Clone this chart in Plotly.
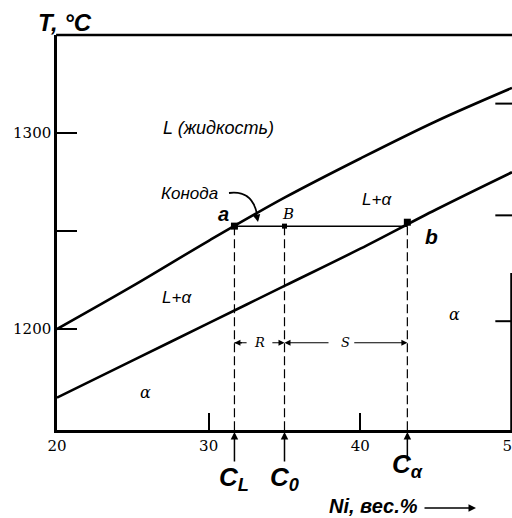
import plotly.graph_objects as go

# ---- data ----
ni_liquidus = [20, 25, 30, 35, 40, 45, 50]
t_liquidus = [1200, 1222, 1245, 1267, 1287, 1306, 1323]
ni_solidus = [20, 25, 30, 35, 40, 45, 50]
t_solidus = [1165, 1184, 1203, 1222, 1241, 1261, 1280]

c_names = ["C<sub>L</sub>", "C<sub>0</sub>", "C<sub>α</sub>"]
c_values = [31.7, 35.0, 43.1]
t_tie = 1252.5
t_dim = 1193

x_ticks = [20, 30, 40, 50]
y_ticks = [1200, 1250, 1300]
y_tick_text = ["1200", "", "1300"]
right_ticks_t = [1315, 1258, 1204]
x_range = [20, 50]
y_range = [1148.5, 1350]

W, H = 512, 518
ML, MR, MT, MB = 57, 0, 35, 88
PW, PH = W - ML - MR, H - MT - MB


def px_x(x):
    return x_range[0] + (x - ML) / PW * (x_range[1] - x_range[0])


def px_y(y):
    return y_range[1] - (y - MT) / PH * (y_range[1] - y_range[0])


def paper_x(x):
    return (x - ML) / PW


def paper_y(y):
    return (MT + PH - y) / PH


SANS = "Liberation Sans"
SERIF = "DejaVu Serif"
BLACK = "black"

fig = go.Figure()
fig.add_trace(go.Scatter(x=ni_liquidus, y=t_liquidus, mode="lines",
                         line=dict(color=BLACK, width=2.6), line_shape="spline"))
fig.add_trace(go.Scatter(x=ni_solidus, y=t_solidus, mode="lines",
                         line=dict(color=BLACK, width=2.6), line_shape="spline"))
# tie line
c_l, c_0, c_a = c_values
fig.add_trace(go.Scatter(x=[c_l, c_a], y=[t_tie, t_tie], mode="lines",
                         line=dict(color=BLACK, width=1.5)))
# dashed verticals
for c in c_values:
    fig.add_trace(go.Scatter(x=[c, c], y=[t_tie, y_range[0]], mode="lines",
                             line=dict(color=BLACK, width=1.2, dash="9px,4px")))
# markers
fig.add_trace(go.Scatter(x=[c_l, c_a], y=[t_tie, t_tie + 2], mode="markers",
                         marker=dict(symbol="square", size=7, color=BLACK)))
fig.add_trace(go.Scatter(x=[c_0], y=[t_tie], mode="markers",
                         marker=dict(symbol="square", size=5, color=BLACK)))

ann = []


def text(x, y, t, size, family=SANS, bold=False, italic=True, xanchor="center",
         xref="x", yref="y"):
    s = t
    if bold:
        s = "<b>" + s + "</b>"
    if italic:
        s = "<i>" + s + "</i>"
    ann.append(dict(x=x, y=y, xref=xref, yref=yref, text=s, showarrow=False,
                    xanchor=xanchor, yanchor="middle",
                    font=dict(family=family, size=size, color=BLACK)))


def arrow(x, y, ax, ay, width=1.3, head=2, size=1.0, axref="x", ayref="y",
          yref="y"):
    ann.append(dict(x=x, y=y, ax=ax, ay=ay, xref="x", yref=yref, axref=axref,
                    ayref=ayref, text="", showarrow=True, arrowhead=head,
                    arrowsize=size, arrowwidth=width, arrowcolor=BLACK))


# region labels
text(px_x(218), px_y(128), "L (жидкость)", 18)
text(px_x(220), px_y(193), "Конода", 17, xanchor="right")
text(px_x(223), px_y(214), "a", 20, bold=True)
text(px_x(288), px_y(214), "B", 15, family=SERIF)
text(px_x(377), px_y(199), "L+α", 17)
text(px_x(431), px_y(236), "b", 21, bold=True)
text(px_x(177), px_y(297), "L+α", 17)
text(px_x(454), px_y(314), "α", 16, family=SERIF)
text(px_x(145), px_y(392), "α", 16, family=SERIF)
text((c_l + c_0) / 2, t_dim, "R", 13, family=SERIF)
text((c_0 + c_a) / 2, t_dim, "S", 13, family=SERIF)
text(paper_x(65), paper_y(22), "T, °C", 24, bold=True, xref="paper",
     yref="paper")

# dimension arrows R / S
arrow(c_l, t_dim, c_l + 0.9, t_dim, width=1.2)
arrow(c_0, t_dim, c_0 - 0.9, t_dim, width=1.2)
arrow(c_0, t_dim, c_0 + 3.0, t_dim, width=1.2)
arrow(c_a, t_dim, c_a - 3.6, t_dim, width=1.2)

# Konoda curved pointer: head
arrow(px_x(258), px_y(222), -2, -10, width=1.5, axref="pixel", ayref="pixel")

# arrows below the axis and concentration labels
for c, name, yc in zip(c_values, c_names, [478, 478, 465]):
    arrow(c, paper_y(432), 0, 31, width=1.5, head=2, axref="pixel",
          ayref="pixel", yref="paper")
    text(c, paper_y(yc), name, 26, bold=True, yref="paper")

text(px_x(373), paper_y(506), "Ni, вес.%", 20, bold=True, yref="paper")
arrow(px_x(476), paper_y(508), -53, 0, width=1.5, head=2, axref="pixel",
      ayref="pixel", yref="paper")

shapes = [
    # Konoda curve
    dict(type="path", xref="x", yref="y",
         path="M {} {} Q {} {} {} {}".format(px_x(229), px_y(193), px_x(252),
                                             px_y(190), px_x(257), px_y(214)),
         line=dict(color=BLACK, width=1.8)),
    # top border
    dict(type="line", xref="paper", yref="paper", x0=-0.002, x1=1, y0=1, y1=1,
         line=dict(color=BLACK, width=2.5)),
    # partial right border
    dict(type="line", xref="x", yref="y", x0=49.95, x1=49.95,
         y0=px_y(273), y1=y_range[0], line=dict(color=BLACK, width=2)),
    # small L-shape at dimension start
    dict(type="line", xref="x", yref="y", x0=c_l, x1=c_l + 0.5, y0=t_dim,
         y1=t_dim, line=dict(color=BLACK, width=1.2)),
]
for t in right_ticks_t:
    shapes.append(dict(type="line", xref="x", yref="y", x0=48.9, x1=50,
                       y0=t, y1=t, line=dict(color=BLACK, width=2)))

fig.update_layout(
    width=W, height=H,
    margin=dict(l=ML, r=MR, t=MT, b=MB, autoexpand=False),
    paper_bgcolor="white", plot_bgcolor="white",
    showlegend=False,
    annotations=ann, shapes=shapes,
    xaxis=dict(range=x_range, tickvals=x_ticks, ticks="inside", ticklen=17,
               tickwidth=2, tickcolor=BLACK, showgrid=False, zeroline=False,
               showline=True, linecolor=BLACK, linewidth=2.5,
               automargin=False, ticklabeloverflow="allow",
               tickfont=dict(family=SERIF, size=15, color=BLACK)),
    yaxis=dict(range=y_range, tickvals=y_ticks, ticktext=y_tick_text,
               ticks="inside", ticklen=20, tickwidth=2, tickcolor=BLACK,
               showgrid=False, zeroline=False, showline=True, linecolor=BLACK,
               automargin=False,
               linewidth=2.5, tickfont=dict(family=SERIF, size=15, color=BLACK)),
)

fig.write_html(
    "out.html",
    config={"displayModeBar": False},
    post_script="document.body.style.margin='0';"
                "document.body.style.overflow='hidden';",
)
